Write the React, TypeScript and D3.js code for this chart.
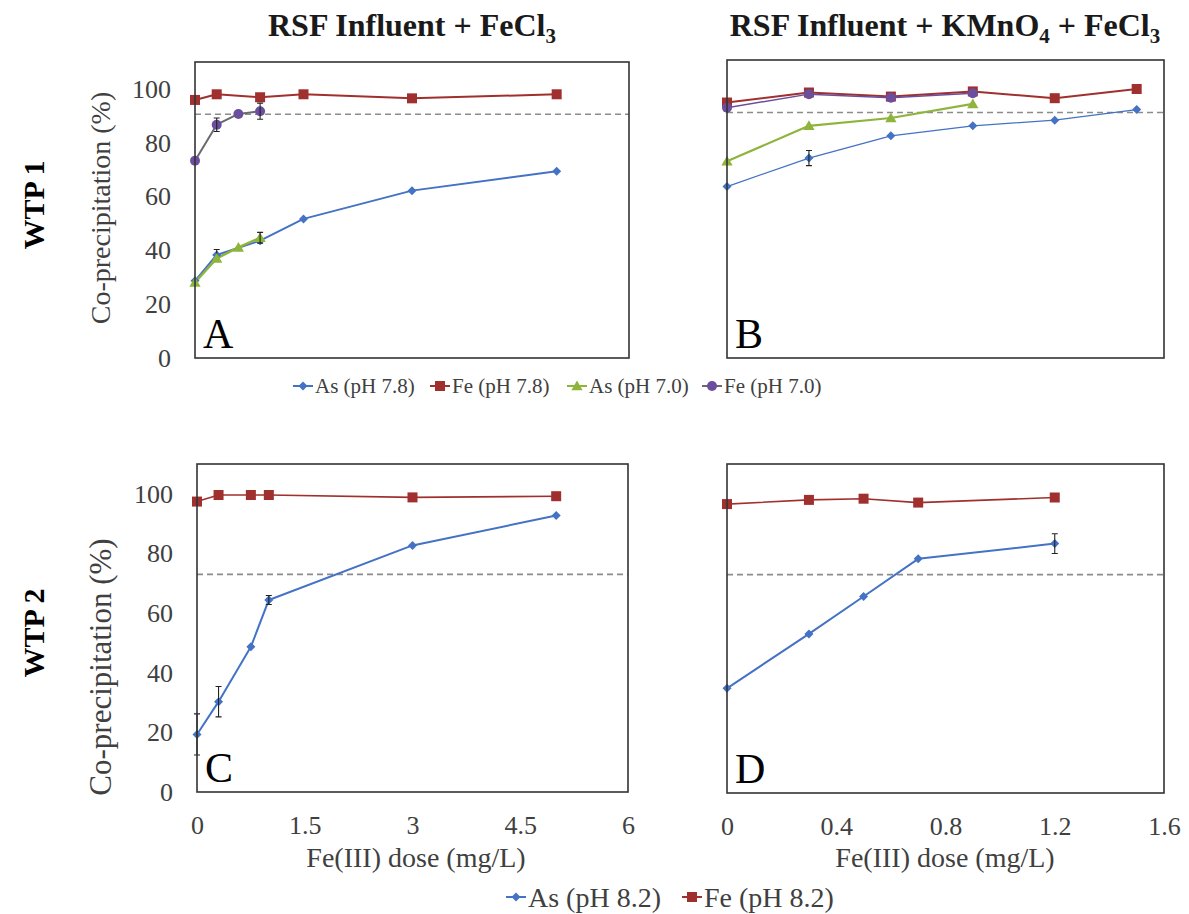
import { useRef, useEffect } from 'react'
import * as d3 from 'd3'

// WTP 1, RSF influent + FeCl3 (panel A)
const aDoseLong = [0, 0.3, 0.9, 1.5, 3, 5]
const aDoseShort = [0, 0.3, 0.6, 0.9]
const aAs78 = [28.7, 38.3, 43.6, 51.7, 62.2, 69.4]
const aAs78Err = [0, 2, 0, 0, 0, 0]
const aFe78 = [95.9, 98.0, 96.9, 98.0, 96.5, 98.0]
const aAs70 = [28.1, 37.0, 41.1, 44.7]
const aAs70Err = [0, 0, 0, 2]
const aFe70 = [73.3, 86.7, 90.7, 91.7]
const aFe70Err = [0, 2.5, 0, 3]

// WTP 1, RSF influent + KMnO4 + FeCl3 (panel B)
const bDoseLong = [0, 0.3, 0.6, 0.9, 1.2, 1.5]
const bDoseShort = [0, 0.3, 0.6, 0.9]
const bAs78 = [63.3, 73.8, 82.0, 85.7, 87.8, 91.7]
const bAs78Err = [0, 2.8, 0, 0, 0, 0]
const bFe78 = [94.3, 98.0, 96.5, 98.4, 95.9, 99.3]
const bAs70 = [72.6, 85.7, 88.6, 93.8]
const bFe70 = [92.4, 97.4, 96.1, 97.7]

// WTP 2 (panels C and D)
const cDose = [0, 0.3, 0.75, 1, 3, 5]
const cAs82 = [19.3, 30.3, 48.7, 64.4, 82.7, 92.7]
const cAs82Err = [6.9, 5.1, 0, 1.5, 0, 0]
const cFe82 = [97.4, 99.6, 99.6, 99.6, 98.8, 99.2]
const dDose = [0, 0.3, 0.5, 0.7, 1.2]
const dAs82 = [35.0, 53.2, 65.7, 78.3, 83.4]
const dAs82Err = [0, 0, 0, 0, 3.3]
const dFe82 = [96.6, 98.0, 98.4, 97.1, 98.8]

const limitWtp1 = 90.6
const limitWtp2 = 73.0

const yTicks = [0, 20, 40, 60, 80, 100]
const xTicksLeft = [0, 1.5, 3, 4.5, 6]
const xTicksRight = [0, 0.4, 0.8, 1.2, 1.6]

const topLegend = ['As (pH 7.8)', 'Fe (pH 7.8)', 'As (pH 7.0)', 'Fe (pH 7.0)']
const bottomLegend = ['As (pH 8.2)', 'Fe (pH 8.2)']

const BLUE = '#4472C4'
const RED = '#A0302E'
const GREEN = '#8EB43C'
const PURPLE = '#6B4E9E'
const GREY_LINE = '#6A6A6A'
const FONT = '"Liberation Serif", "Times New Roman", serif'
const TEXT = '#404040'

const zip = (xs, ys, es?) => xs.map((x, i) => ({ x, y: ys[i], e: es ? es[i] : 0 }))

const panels = [
  {
    letter: 'A', x0: 195, x1: 629, y0: 62, y1: 358, xMax: 6, limit: limitWtp1,
    yAxis: true, xTicks: null,
    series: [
      { pts: zip(aDoseLong, aAs78, aAs78Err), color: BLUE, line: BLUE, lw: 2, marker: 'diamond' },
      { pts: zip(aDoseLong, aFe78), color: RED, line: RED, lw: 2, marker: 'square' },
      { pts: zip(aDoseShort, aAs70, aAs70Err), color: GREEN, line: GREEN, lw: 2.4, marker: 'triangle' },
      { pts: zip(aDoseShort, aFe70, aFe70Err), color: PURPLE, line: GREY_LINE, lw: 2, marker: 'circle' },
    ],
  },
  {
    letter: 'B', x0: 727, x1: 1164, y0: 60, y1: 358, xMax: 1.6, limit: limitWtp1,
    yAxis: false, xTicks: null,
    series: [
      { pts: zip(bDoseLong, bAs78, bAs78Err), color: BLUE, line: BLUE, lw: 1.3, marker: 'diamond' },
      { pts: zip(bDoseShort, bAs70), color: GREEN, line: GREEN, lw: 2.2, marker: 'triangle' },
      { pts: zip(bDoseLong, bFe78), color: RED, line: RED, lw: 2, marker: 'square' },
      { pts: zip(bDoseShort, bFe70), color: PURPLE, line: PURPLE, lw: 1.5, marker: 'circle' },
    ],
  },
  {
    letter: 'C', x0: 197, x1: 628, y0: 464, y1: 792, xMax: 6, limit: limitWtp2,
    yAxis: true, xTicks: xTicksLeft,
    series: [
      { pts: zip(cDose, cAs82, cAs82Err), color: BLUE, line: BLUE, lw: 2, marker: 'diamond' },
      { pts: zip(cDose, cFe82), color: RED, line: RED, lw: 1.6, marker: 'square' },
    ],
  },
  {
    letter: 'D', x0: 727, x1: 1164, y0: 464, y1: 793, xMax: 1.6, limit: limitWtp2,
    yAxis: false, xTicks: xTicksRight,
    series: [
      { pts: zip(dDose, dAs82, dAs82Err), color: BLUE, line: BLUE, lw: 2, marker: 'diamond' },
      { pts: zip(dDose, dFe82), color: RED, line: RED, lw: 1.6, marker: 'square' },
    ],
  },
]

const drawMarker = (g, type, color, x, y) => {
  if (type === 'square') {
    g.append('rect').attr('x', x - 5).attr('y', y - 5).attr('width', 10).attr('height', 10).attr('fill', color)
  } else if (type === 'diamond') {
    g.append('path').attr('d', `M${x},${y - 4.5}L${x + 4.5},${y}L${x},${y + 4.5}L${x - 4.5},${y}Z`).attr('fill', color)
  } else if (type === 'triangle') {
    g.append('path').attr('d', d3.symbol(d3.symbolTriangle, 55)()).attr('transform', `translate(${x},${y + 1})`).attr('fill', color)
  } else {
    g.append('circle').attr('cx', x).attr('cy', y).attr('r', 5).attr('fill', color)
  }
}

const App = () => {
  const svgRef = useRef(null)

  useEffect(() => {
    const svg = d3.select(svgRef.current)
    svg.selectAll('*').remove()

    panels.forEach(p => {
      const x = d3.scaleLinear().domain([0, p.xMax]).range([p.x0, p.x1])
      const y = d3.scaleLinear().domain([0, 110]).range([p.y1, p.y0])
      const g = svg.append('g')

      // limit line
      g.append('line')
        .attr('x1', p.x0).attr('x2', p.x1)
        .attr('y1', y(p.limit)).attr('y2', y(p.limit))
        .attr('stroke', '#8c8c8c').attr('stroke-width', 1.6).attr('stroke-dasharray', '6,4')

      if (p.yAxis) {
        g.append('g')
          .attr('transform', `translate(${p.x0},0)`)
          .call(d3.axisLeft(y).tickValues(yTicks).tickSize(0).tickPadding(24))
          .call(a => a.select('.domain').remove())
          .selectAll('text').attr('font-family', FONT).attr('font-size', 26).attr('fill', TEXT)
      }
      if (p.xTicks) {
        g.append('g')
          .attr('transform', `translate(0,${p.y1})`)
          .call(d3.axisBottom(x).tickValues(p.xTicks).tickSize(0).tickPadding(24).tickFormat(d3.format('')))
          .call(a => a.select('.domain').remove())
          .selectAll('text').attr('font-family', FONT).attr('font-size', 26).attr('fill', TEXT)
      }

      const line = d3.line().x(d => x(d.x)).y(d => y(d.y))
      p.series.forEach(s => {
        g.append('path').attr('d', line(s.pts)).attr('fill', 'none')
          .attr('stroke', s.line).attr('stroke-width', s.lw).attr('stroke-linejoin', 'round')
      })
      p.series.forEach(s => {
        s.pts.forEach(d => {
          drawMarker(g, s.marker, s.color, x(d.x), y(d.y))
          if (d.e) {
            const cx = x(d.x)
            g.append('path')
              .attr('d', `M${cx},${y(d.y + d.e)}V${y(d.y - d.e)}M${cx - 3},${y(d.y + d.e)}H${cx + 3}M${cx - 3},${y(d.y - d.e)}H${cx + 3}`)
              .attr('stroke', '#222').attr('stroke-width', 1.1).attr('fill', 'none')
          }
        })
      })

      // frame
      g.append('rect')
        .attr('x', p.x0).attr('y', p.y0).attr('width', p.x1 - p.x0).attr('height', p.y1 - p.y0)
        .attr('fill', 'none').attr('stroke', '#333').attr('stroke-width', 1.6)

      g.append('text').attr('x', p.x0 + 8).attr('y', p.y1 - 10)
        .attr('font-family', FONT).attr('font-size', 42).attr('fill', '#000').text(p.letter)
    })

    // column titles
    const t1 = svg.append('text').attr('x', 412).attr('y', 36).attr('text-anchor', 'middle')
      .attr('font-family', FONT).attr('font-size', 32).attr('font-weight', 'bold').attr('fill', '#1a1a1a')
    t1.append('tspan').text('RSF Influent + FeCl')
    t1.append('tspan').attr('dy', 7).attr('font-size', 21).text('3')

    const t2 = svg.append('text').attr('x', 945).attr('y', 36).attr('text-anchor', 'middle')
      .attr('font-family', FONT).attr('font-size', 32).attr('font-weight', 'bold').attr('fill', '#1a1a1a')
    t2.append('tspan').text('RSF Influent + KMnO')
    t2.append('tspan').attr('dy', 7).attr('font-size', 21).text('4')
    t2.append('tspan').attr('dy', -7).text(' + FeCl')
    t2.append('tspan').attr('dy', 7).attr('font-size', 21).text('3')

    // row labels
    const rowLabel = (txt, cx, cy, size, weight, fill) =>
      svg.append('text').attr('transform', `translate(${cx},${cy}) rotate(-90)`)
        .attr('text-anchor', 'middle').attr('dominant-baseline', 'central')
        .attr('font-family', FONT).attr('font-size', size).attr('font-weight', weight).attr('fill', fill).text(txt)
    rowLabel('WTP 1', 33, 205, 30, 'bold', '#000')
    rowLabel('WTP 2', 33, 633, 30, 'bold', '#000')
    rowLabel('Co-precipitation (%)', 100, 208, 28, 'normal', TEXT)
    rowLabel('Co-precipitation (%)', 100, 667, 31, 'normal', TEXT)

    // x titles
    ;[416, 945].forEach(cx => {
      svg.append('text').attr('x', cx).attr('y', 867).attr('text-anchor', 'middle')
        .attr('font-family', FONT).attr('font-size', 28).attr('fill', TEXT).text('Fe(III) dose (mg/L)')
    })

    // legends
    const legendItem = (label, color, marker, mx, my, size) => {
      const g = svg.append('g')
      g.append('line').attr('x1', mx - 10).attr('x2', mx + 10).attr('y1', my).attr('y2', my)
        .attr('stroke', marker === 'circle' ? GREY_LINE : color).attr('stroke-width', 2)
      drawMarker(g, marker, color, mx, my)
      g.append('text').attr('x', mx + 12).attr('y', my).attr('dominant-baseline', 'central')
        .attr('font-family', FONT).attr('font-size', size).attr('fill', TEXT).text(label)
    }
    const topColors = [BLUE, RED, GREEN, PURPLE]
    const topMarkers = ['diamond', 'square', 'triangle', 'circle']
    const topX = [303, 440, 577, 712]
    topLegend.forEach((l, i) => legendItem(l, topColors[i], topMarkers[i], topX[i], 386, 21))
    const botX = [516, 692]
    bottomLegend.forEach((l, i) => legendItem(l, [BLUE, RED][i], ['diamond', 'square'][i], botX[i], 897, 28))
  }, [])

  return (
    <svg ref={svgRef} width={1189} height={914}
      style={{ position: 'absolute', left: 0, top: 0, background: '#fff' }} />
  )
}

export default App
